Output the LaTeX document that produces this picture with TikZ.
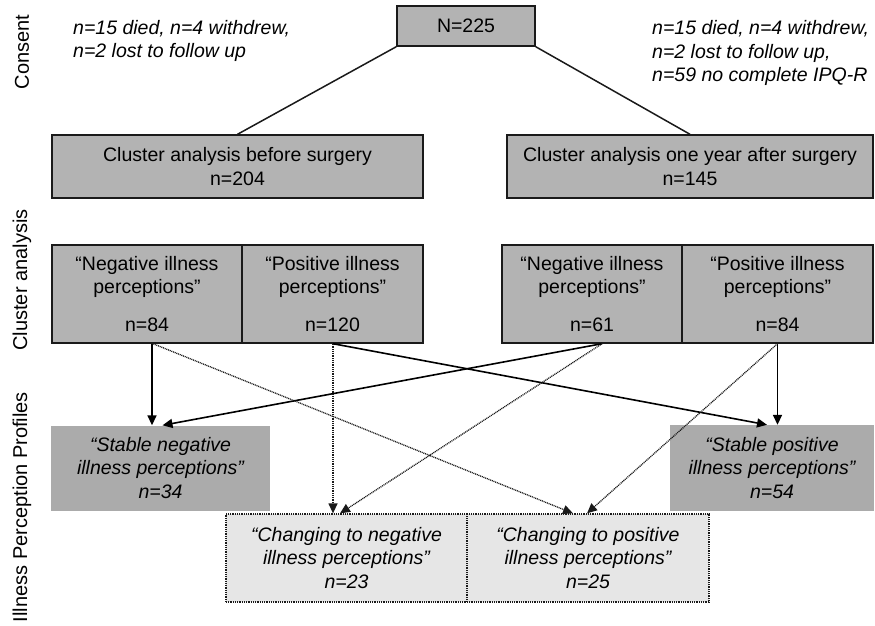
\documentclass[tikz,border=0pt]{standalone}
\usepackage{fontspec}
\setmainfont{Liberation Sans}
\usetikzlibrary{arrows.meta,calc}
\definecolor{boxgray}{HTML}{B3B3B3}
\definecolor{stablegray}{HTML}{ABABAB}
\definecolor{changegray}{HTML}{E6E6E6}
\definecolor{linegray}{HTML}{1A1A1A}
\begin{document}
\begin{tikzpicture}[x=1pt,y=-1pt,
  every node/.style={inner sep=0pt, align=center, text=black},
  basefont/.style={font=\fontsize{19.5}{23.5}\selectfont},
  itfont/.style={font=\fontsize{19.5}{23.5}\selectfont\itshape},
  darkbox/.style={basefont, draw=linegray, line width=1.4pt, fill=boxgray},
  stablebox/.style={itfont, fill=stablegray},
  changebox/.style={itfont, draw=linegray, line width=1.3pt, dash pattern=on 1pt off 0.8pt, fill=changegray},
  sideLabel/.style={font=\fontsize{20}{24}\selectfont, rotate=90},
  topline/.style={draw=linegray, line width=1.5pt},
  solidarrow/.style={draw=black, line width=1.6pt, -{Triangle[length=10pt,width=9pt]}},
  dotarrow/.style={draw=linegray, line width=1.3pt, dash pattern=on 1pt off 0.8pt, -{Triangle[length=10pt,width=9pt]}}
]
\useasboundingbox (0,0) rectangle (875,625);

% side labels
\node[sideLabel] (labConsent) at (22,52) {Consent};
\node[sideLabel] (labCluster) at (22,280) {Cluster analysis};
\node[sideLabel] (labProfiles) at (22,507) {Illness Perception Profiles};

% notes
\node[itfont, anchor=west, align=left] (noteL) at (73,41) {n=15 died, n=4 withdrew,\\n=2 lost to follow up};
\node[itfont, anchor=west, align=left] (noteR) at (652,53) {n=15 died, n=4 withdrew,\\n=2 lost to follow up,\\n=59 no complete IPQ-R};

% top
\node[darkbox, minimum width=138, minimum height=40] (N) at (466,26) {N=225};
\node[darkbox, minimum width=371, minimum height=63] (before) at (237.5,166.5) {Cluster analysis before surgery\\n=204};
\node[darkbox, minimum width=366, minimum height=63] (after) at (690,166.5) {Cluster analysis one year after surgery\\n=145};

% clusters
\node[darkbox, minimum width=190, minimum height=98] (negL) at (147,294) {“Negative illness\\perceptions”\\[14pt]n=84};
\node[darkbox, minimum width=181, minimum height=98] (posL) at (332.5,294) {“Positive illness\\perceptions”\\[14pt]n=120};
\node[darkbox, minimum width=180, minimum height=98] (negR) at (592,294) {“Negative illness\\perceptions”\\[14pt]n=61};
\node[darkbox, minimum width=191, minimum height=98] (posR) at (777.5,294) {“Positive illness\\perceptions”\\[14pt]n=84};

% profiles
\node[stablebox, minimum width=219, minimum height=85] (stabN) at (160.5,468) {“Stable negative\\illness perceptions”\\n=34};
\node[stablebox, minimum width=204, minimum height=86] (stabP) at (772,468) {“Stable positive\\illness perceptions”\\n=54};
\node[changebox, minimum width=241, minimum height=88] (chgN) at (346.5,558) {“Changing to negative\\illness perceptions”\\n=23};
\node[changebox, minimum width=242, minimum height=88] (chgP) at (588,558) {“Changing to positive\\illness perceptions”\\n=25};

% top connectors
\draw[topline] (N.south west) -- (before.north);
\draw[topline] (N.south east) -- (after.north);

% solid arrows
\draw[solidarrow] ([xshift=5]negL.south) -- ([xshift=-8.5]stabN.north);
\draw[solidarrow] ([xshift=10]negR.south) -- ([xshift=2]stabN.north);
\draw[solidarrow] ([xshift=0.5]posL.south) -- ([xshift=-5]stabP.north);
\draw[solidarrow] (posR.south) -- ([xshift=5.5]stabP.north);

% dotted arrows
\draw[dotarrow] ([xshift=6]negL.south) -- ([xshift=-15]chgP.north);
\draw[dotarrow] ([xshift=0.5]posL.south) -- ([xshift=-13.5]chgN.north);
\draw[dotarrow] ([xshift=10]negR.south) -- ([xshift=-6.5]chgN.north);
\draw[dotarrow] (posR.south) -- ([xshift=-1]chgP.north);
\end{tikzpicture}
\end{document}
